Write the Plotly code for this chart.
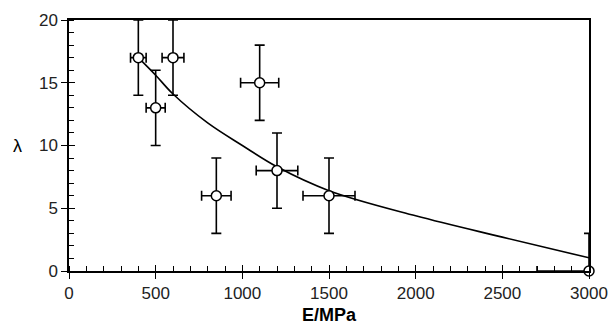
import plotly.graph_objects as go

# data points
E_vals = [400, 500, 600, 850, 1100, 1200, 1500, 3000]
lam_vals = [17, 13, 17, 6, 15, 8, 6, 0]
lam_err_plus = [3, 3, 3, 3, 3, 3, 3, 3]
lam_err_minus = [3, 3, 3, 3, 3, 3, 3, 0]
E_err_plus = [45, 55, 63, 85, 110, 120, 150, 0]
E_err_minus = [45, 55, 63, 85, 110, 120, 150, 300]

# fitted curve
curve_E = [400, 500, 600, 800, 1000, 1200, 1500, 2000, 2500, 3000]
curve_lam = [17.0, 15.6, 14.1, 11.8, 10.0, 8.3, 6.4, 4.4, 2.7, 1.05]

x_ticks = [0, 500, 1000, 1500, 2000, 2500, 3000]
y_ticks = [0, 5, 10, 15, 20]
x_range = [0, 3000]
y_range = [0, 20]

fig = go.Figure()
fig.add_trace(go.Scatter(
    x=curve_E, y=curve_lam, mode="lines",
    line=dict(color="black", width=1.6, shape="spline"),
    showlegend=False, hoverinfo="skip"))
fig.add_trace(go.Scatter(
    x=E_vals, y=lam_vals, mode="markers",
    marker=dict(symbol="circle", size=10, color="white",
                line=dict(color="black", width=1.5)),
    error_y=dict(type="data", symmetric=False, array=lam_err_plus,
                 arrayminus=lam_err_minus, color="black", thickness=1.6, width=5),
    error_x=dict(type="data", symmetric=False, array=E_err_plus,
                 arrayminus=E_err_minus, color="black", thickness=1.6, width=5),
    cliponaxis=False, showlegend=False))
# invisible trace on overlay axes so the inside halves of major ticks are drawn
fig.add_trace(go.Scatter(x=[x_range[0]], y=[y_range[0]], xaxis="x2", yaxis="y2",
                         mode="markers", marker=dict(opacity=0),
                         showlegend=False, hoverinfo="skip"))

font_family = "Liberation Sans, Arial, sans-serif"
common = dict(showgrid=False, zeroline=False, tickcolor="black", tickwidth=1.2)
fig.update_layout(
    width=610, height=326,
    margin=dict(l=69, r=21, t=20, b=55),
    paper_bgcolor="white", plot_bgcolor="white",
    font=dict(family=font_family, color="black", size=17),
    xaxis=dict(range=x_range, tickvals=x_ticks, ticks="outside", ticklen=6,
               minor=dict(ticks="inside", ticklen=5, dtick=100, tickwidth=1.2,
                          tickcolor="black", showgrid=False),
               showline=True, linecolor="black", linewidth=1.5, mirror=True,
               automargin=False, tickfont=dict(size=17, color="#222"), **common),
    yaxis=dict(range=y_range, tickvals=y_ticks, ticks="outside", ticklen=6,
               minor=dict(ticks="inside", ticklen=5, dtick=1, tickwidth=1.2,
                          tickcolor="black", showgrid=False),
               showline=True, linecolor="black", linewidth=1.5, mirror=True,
               automargin=False, tickfont=dict(size=17, color="#222"), **common),
    xaxis2=dict(range=x_range, tickvals=x_ticks, ticks="inside", ticklen=6,
                showticklabels=False, overlaying="x", anchor="y2", side="bottom",
                showline=False, automargin=False, **common),
    yaxis2=dict(range=y_range, tickvals=y_ticks, ticks="inside", ticklen=6,
                showticklabels=False, overlaying="y", anchor="x2", side="left",
                showline=False, automargin=False, **common),
    annotations=[
        dict(text="λ", xref="paper", yref="paper", x=-0.1, y=0.5,
             xanchor="center", yanchor="middle", showarrow=False,
             font=dict(size=18, color="black")),
        dict(text="<b>E/MPa</b>", xref="paper", yref="paper", x=0.5, y=-0.176,
             xanchor="center", yanchor="middle", showarrow=False,
             font=dict(size=18, color="black")),
    ],
)

fig.write_html("out.html")
